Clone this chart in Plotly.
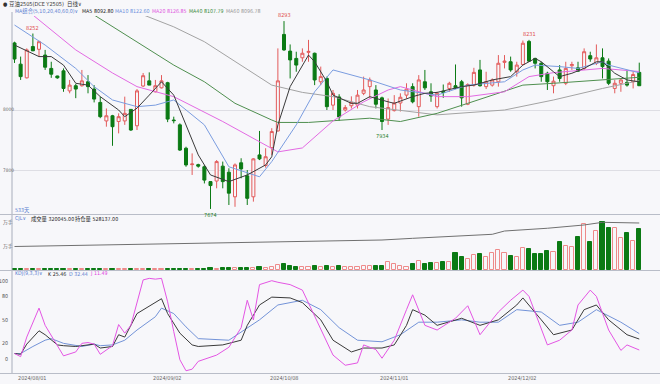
import plotly.graph_objects as go

# ---------------- data ----------------
opens = [8221,8151,8106,8209,8200,8181,8137,8112,8129,8063,8080,8080,8093,8069,8025,7964,7981,7962,7964,8002,
         7948,8079,8096,8060,8073,8090,7967,7951,7874,7820,7820,7813,7764,7766,7815,7795,7714,7826,7783,7714,
         7852,7817,7876,7931,8249,8194,8170,8172,8190,8187,8093,8104,8016,8043,8000,8014,8016,8055,8077,8066,
         8040,7970,7998,8023,8049,8077,8011,8093,8060,8011,8062,8071,8080,8093,8019,8082,8132,8077,8082,8093,
         8157,8159,8126,8150,8226,8170,8154,8121,8080,8132,8088,8146,8139,8137,8179,8154,8172,8161,8071,8088,
         8091,8093,8124]
highs = [8225,8176,8203,8252,8228,8198,8159,8113,8137,8099,8086,8132,8115,8082,8044,8005,7984,7989,8044,8003,
         8069,8122,8124,8099,8115,8093,7978,7956,7879,7857,7823,7819,7766,7835,7830,7808,7824,7841,7802,7841,
         7931,7874,7940,8203,8293,8216,8192,8203,8231,8189,8143,8110,8066,8052,8016,8045,8066,8110,8107,8082,
         8044,8038,8049,8055,8088,8088,8115,8132,8088,8060,8084,8093,8150,8099,8088,8139,8165,8126,8104,8181,
         8181,8176,8159,8229,8231,8172,8159,8126,8110,8148,8159,8159,8159,8203,8192,8216,8203,8170,8099,8104,
         8132,8126,8156]
lows = [8155,8099,8104,8194,8176,8132,8106,8103,8060,8055,8039,8077,8055,8025,7973,7945,7882,7923,7951,7931,
        7934,8076,8082,8058,8071,7960,7956,7865,7813,7786,7810,7758,7674,7742,7742,7687,7681,7775,7687,7698,
        7835,7810,7852,7929,8195,8104,8126,8159,8159,8082,8082,8000,8000,7964,7995,8005,8005,8049,8038,8005,
        7934,7951,7995,7995,8038,8022,7978,8066,8027,8005,8040,8060,8069,8011,8016,8077,8077,8069,8077,8077,
        8137,8126,8110,8148,8159,8137,8093,8066,8055,8093,8082,8132,8126,8132,8159,8148,8104,8082,8055,8060,
        8077,8071,8080]
closes = [8168,8110,8198,8195,8225,8141,8118,8106,8071,8082,8069,8096,8077,8036,7978,7981,7945,7978,7989,7934,
          8063,8113,8082,8080,8096,7970,7965,7868,7819,7822,7815,7769,7751,7830,7764,7726,7819,7806,7709,7839,
          7839,7846,7929,8096,8198,8165,8148,8187,8193,8099,8110,8011,8055,7977,8008,8025,8049,8066,8099,8019,
          7962,8008,8023,8042,8069,8027,8099,8073,8046,8055,8058,8088,8073,8040,8084,8124,8080,8093,8099,8154,
          8161,8132,8148,8220,8161,8154,8110,8093,8095,8104,8137,8150,8128,8192,8168,8172,8143,8088,8088,8099,
          8082,8117,8080]
volumes = [5000,4500,6000,5500,5000,6000,5000,4000,6000,5000,4500,5000,5000,5500,7000,6000,8000,6000,7000,8000,
           9000,9000,7000,6000,7000,9000,6000,9000,10000,8000,7000,10000,12000,11000,12000,14000,15000,12000,16000,18000,
           20000,17000,22000,40000,45000,30000,26000,24000,26000,30000,24000,30000,26000,32000,22000,24000,26000,30000,28000,30000,
           33600,64800,44500,33600,25800,46800,72600,46800,57000,57000,64800,64800,135000,99000,83500,117000,122500,104000,130000,156000,
           130000,111600,99000,169000,164000,125000,125000,150700,143000,221000,187000,177000,255000,357000,221000,304000,372000,325500,330000,247000,
           286000,226000,320045]

ma5_idx = [0,4,6,8,10,12,14,17,18,20,22,24,26,30,32,35,38,41,42,43,45,48,49,51,52,55,56,58,61,62,65,67,69,73,75,78,81,83,85,86,88,89,91,93,95,96,98,100,102]
ma5_val = [8214,8176,8176,8148,8088,8082,8044,8000,7978,8006,8049,8093,8049,7852,7786,7764,7786,7819,7846,7951,8077,8181,8159,8093,8049,8022,8022,8044,8027,8022,8044,8055,8058,8077,8082,8099,8110,8148,8170,8159,8126,8110,8121,8137,8159,8159,8121,8099,8092.8]
ma10_idx = [0,5,10,13,16,20,23,26,31,35,40,42,46,49,52,58,63,69,74,80,83,85,89,92,96,97,102]
ma10_val = [8280,8214,8137,8077,8033,8011,8016,8033,7951,7813,7780,7830,7951,8060,8132,8099,8066,8049,8082,8093,8132,8148,8143,8137,8159,8148,8122.6]
ma20_idx = [0,3,10,16,20,26,34,40,43,47,52,57,61,63,66,69,74,80,84,88,96,102]
ma20_val = [8345,8313,8198,8122,8077,8044,7962,7896,7862,7875,7964,8027,8066,8077,8060,8044,8044,8060,8110,8123,8137,8126.85]
ma40_idx = [0,6,13,20,26,31,36,42,43,48,52,58,63,69,74,83,88,96,102]
ma40_val = [8480,8400,8313,8225,8148,8093,8022,7967,7959,7959,7964,7973,7962,7989,8022,8082,8088,8099,8107.79]
ma60_idx = [0,10,21,26,31,36,42,47,52,58,69,80,88,96,102]
ma60_val = [8480,8400,8313,8274,8225,8159,8082,8058,8044,8011,7984,8000,8033,8071,8096.78]

oi_idx = [0,30,45,60,65,78,80,87,93,96,102]
oi_val = [264000,300000,315000,337000,356000,401000,438000,469000,506000,536000,528137]

k_idx = [0,1,2,4,5,7,8,10,12,13,14,16,17,18,20,22,24,25,27,29,30,34,37,38,40,42,45,47,50,52,55,57,60,62,64,65,67,69,73,76,79,82,83,86,88,91,93,95,97,100,102]
k_val = [7,6,19,36,31,18,17,16,18,19,14,16,31,28,58,68,77,58,33,18,16,18,24,43,69,79,78,72,50,24,9,14,14,18,43,63,56,43,52,43,50,69,78,50,31,37,63,69,50,31,25.46]
d_idx = [0,1,3,5,6,8,11,13,14,16,18,20,23,24,26,28,30,35,40,43,47,50,53,56,60,63,66,69,73,76,79,82,86,89,92,95,99,102]
d_val = [7,7,16,24,26,20,16,19,17,18,24,37,54,65,58,41,26,24,50,69,75,63,40,24,22,31,47,47,50,47,47,63,60,43,47,63,47,32.44]
j_idx = [0,1,2,3,4,5,7,8,10,11,12,13,14,16,17,18,19,20,21,22,23,24,25,26,27,28,29,30,33,35,37,38,39,40,42,43,45,47,50,52,54,56,57,59,60,62,64,65,67,69,72,74,76,78,79,81,83,84,86,87,89,91,92,94,95,97,99,100,102]
j_val = [7,3,28,46,65,43,18,4,9,20,21,19,6,17,44,33,43,73,101,103,102,103,73,35,-1,-15,-13,-3,5,15,40,75,50,95,100,98,95,88,37,5,-8,-5,18,12,1,24,63,82,43,37,52,68,31,50,60,75,88,80,37,18,24,37,69,88,80,37,11,18,11.49]

date_idx = [3, 25, 44, 62, 83]
date_lbl = ["2024/08/01", "2024/09/02", "2024/10/08", "2024/11/01", "2024/12/02"]

price_ticks = [8000, 7800]
kdj_ticks = [100, 80, 50, 20, 0]

hi_marks = [3, 44, 84]
lo_marks = [32, 60]

# ---------------- style ----------------
W, H = 660, 384
BG = "#f7f7fa"
RED = "#e35b5b"
RED_V = "#ee8a8a"
GREEN = "#0b7a14"
FONT = "DejaVu Sans Condensed, Noto Sans CJK SC, sans-serif"

def px(x):
    return x / W

def py(y):
    return 1 - y / H

X0 = 12
XR = [(X0 - 14.5) / 6.125, (W - 14.5) / 6.125]

MAIN_TOP, MAIN_BOT = 16, 214
VOL_TOP, VOL_BOT = 215, 270
KDJ_TOP, KDJ_BOT = 271, 373
PX_PER_PT = 1 / 3.295
P_RANGE = [8000 - (MAIN_BOT - 110) / PX_PER_PT, 8000 + (110 - MAIN_TOP) / PX_PER_PT]
VOL_RANGE = [0, (VOL_BOT - VOL_TOP) * 7806]
OI_RANGE = [0, (VOL_BOT - VOL_TOP) * 11237]
K_RANGE = [(359 - KDJ_BOT) / 0.783, (359 - KDJ_TOP) / 0.783]

fig = go.Figure()

fig.add_trace(go.Candlestick(
    x=list(range(len(closes))), open=opens, high=highs, low=lows, close=closes,
    increasing=dict(line=dict(color=RED, width=1), fillcolor=BG),
    decreasing=dict(line=dict(color=GREEN, width=1), fillcolor=GREEN),
    whiskerwidth=0, xaxis="x", yaxis="y", showlegend=False, hoverinfo="skip"))

for ix, vals, col in [(ma60_idx, ma60_val, "#a3a3a3"), (ma40_idx, ma40_val, "#4f8f4f"),
                      (ma20_idx, ma20_val, "#e36ae3"), (ma10_idx, ma10_val, "#7b9de0"),
                      (ma5_idx, ma5_val, "#3a3a3a")]:
    fig.add_trace(go.Scatter(x=ix, y=vals, mode="lines", line=dict(color=col, width=1),
                             xaxis="x", yaxis="y", showlegend=False, hoverinfo="skip"))

up = [c >= o for o, c in zip(opens, closes)]
fig.add_trace(go.Bar(
    x=list(range(len(volumes))), y=volumes, width=0.68,
    marker=dict(color=[BG if u else GREEN for u in up],
                line=dict(color=[RED_V if u else GREEN for u in up], width=1)),
    xaxis="x2", yaxis="y2", showlegend=False, hoverinfo="skip"))
fig.add_trace(go.Scatter(x=oi_idx, y=oi_val, mode="lines", line=dict(color="#707070", width=1),
                         xaxis="x2", yaxis="y4", showlegend=False, hoverinfo="skip"))

for ix, vals, col in [(d_idx, d_val, "#7393d8"), (k_idx, k_val, "#3a3a3a"), (j_idx, j_val, "#e455e4")]:
    fig.add_trace(go.Scatter(x=ix, y=vals, mode="lines", line=dict(color=col, width=1),
                             xaxis="x3", yaxis="y3", showlegend=False, hoverinfo="skip"))

xcommon = dict(range=XR, visible=False, fixedrange=True, domain=[px(X0), 1])
fig.update_layout(
    width=W, height=H, margin=dict(l=0, r=0, t=0, b=0),
    paper_bgcolor=BG, plot_bgcolor=BG, bargap=0, barmode="overlay",
    xaxis=dict(anchor="y", rangeslider=dict(visible=False), **xcommon),
    xaxis2=dict(anchor="y2", **xcommon),
    xaxis3=dict(anchor="y3", **xcommon),
    yaxis=dict(domain=[py(MAIN_BOT), py(MAIN_TOP)], range=P_RANGE, anchor="x",
               tickvals=price_ticks, showticklabels=False, showgrid=True,
               gridcolor="#dedee4", gridwidth=1, zeroline=False, fixedrange=True),
    yaxis2=dict(domain=[py(VOL_BOT), py(VOL_TOP)], range=VOL_RANGE, anchor="x2",
                visible=False, fixedrange=True),
    yaxis4=dict(domain=[py(VOL_BOT), py(VOL_TOP)], range=OI_RANGE, overlaying="y2",
                anchor="x2", visible=False, fixedrange=True),
    yaxis3=dict(domain=[py(KDJ_BOT), py(KDJ_TOP)], range=K_RANGE, anchor="x3",
                visible=False, fixedrange=True),
    font=dict(family=FONT, size=6, color="#333"),
)

shapes = [
    dict(type="line", xref="paper", yref="paper", x0=px(X0), x1=px(X0), y0=py(MAIN_TOP - 4), y1=py(KDJ_BOT),
         line=dict(color="#a8adbb", width=1)),
    dict(type="line", xref="paper", yref="paper", x0=0, x1=1, y0=py(MAIN_BOT + 0.5), y1=py(MAIN_BOT + 0.5),
         line=dict(color="#b9bdc8", width=1)),
    dict(type="line", xref="paper", yref="paper", x0=0, x1=1, y0=py(VOL_BOT + 0.5), y1=py(VOL_BOT + 0.5),
         line=dict(color="#b9bdc8", width=1)),
    dict(type="line", xref="paper", yref="paper", x0=0, x1=1, y0=py(KDJ_BOT + 0.5), y1=py(KDJ_BOT + 0.5),
         line=dict(color="#b9bdc8", width=1)),
]
fig.update_layout(shapes=shapes)

ann = []

def txt(x, y, s, color="#333", size=5.5, xanchor="left", yanchor="middle"):
    ann.append(dict(x=px(x), y=py(y), xref="paper", yref="paper", text=s, showarrow=False,
                    xanchor=xanchor, yanchor=yanchor, font=dict(family=FONT, size=size, color=color)))

# title row + MA legend
txt(1, 4, "● 豆油2505(DCE Y2505)  日线∨", "#333", 5.5)
txt(13, 11, "MA组合(5,10,20,40,60,0)∨", "#5b7fd0", 5.3)
txt(80, 11, "MA5 8092.80", "#222", 5.3)
txt(113, 11, "MA10 8122.60", "#6a8fdc", 5.3)
txt(150, 11, "MA20 8126.85", "#e055e0", 5.3)
txt(187, 11, "MA40 8107.79", "#3c8a3c", 5.3)
txt(224, 11, "MA60 8096.78", "#999", 5.3)

# price tick labels
for v in price_ticks:
    ann.append(dict(x=px(0.5), y=v, xref="paper", yref="y", text=str(v), showarrow=False,
                    xanchor="left", yanchor="middle", font=dict(family=FONT, size=4.8, color="#666")))
txt(13, 210, "533天", "#5b7fd0", 5.3)

# high / low marks
for i in hi_marks:
    ann.append(dict(x=i, y=highs[i], xref="x", yref="y", text=str(highs[i]), showarrow=False,
                    xanchor="center", yanchor="bottom", yshift=1,
                    font=dict(family=FONT, size=5.5, color="#e04848")))
for i in lo_marks:
    ann.append(dict(x=i, y=lows[i], xref="x", yref="y", text=str(lows[i]), showarrow=False,
                    xanchor="center", yanchor="top", yshift=-1,
                    font=dict(family=FONT, size=5.5, color="#1f7f2a")))

# volume panel texts
txt(13, 218.5, "CJL∨", "#5b7fd0", 5.3)
txt(29, 218.5, "成交量 320045.00", "#222", 5.3)
txt(73, 218.5, "持仓量 528137.00", "#222", 5.3)
txt(0.5, 222, "万手", "#666", 4.8)
txt(0.5, 246, "万手", "#666", 4.8)

# KDJ texts
txt(13, 273.5, "KDJ(9,3,3)∨", "#5b7fd0", 5.3)
txt(46, 273.5, "K 25.46", "#222", 5.3)
txt(67, 273.5, "D 32.44", "#5b7fd0", 5.3)
txt(88, 273.5, "J 11.49", "#e040e0", 5.3)
for v in kdj_ticks:
    ann.append(dict(x=px(10.5), y=v, xref="paper", yref="y3", text=str(v), showarrow=False,
                    xanchor="right", yanchor="middle", font=dict(family=FONT, size=5.3, color="#555")))

# dates
for i, s in zip(date_idx, date_lbl):
    ann.append(dict(x=i, y=py(377.5), xref="x3", yref="paper", text=s, showarrow=False,
                    xanchor="center", yanchor="middle", font=dict(family=FONT, size=5.5, color="#666")))

fig.update_layout(annotations=ann)
fig.write_html("out.html")
